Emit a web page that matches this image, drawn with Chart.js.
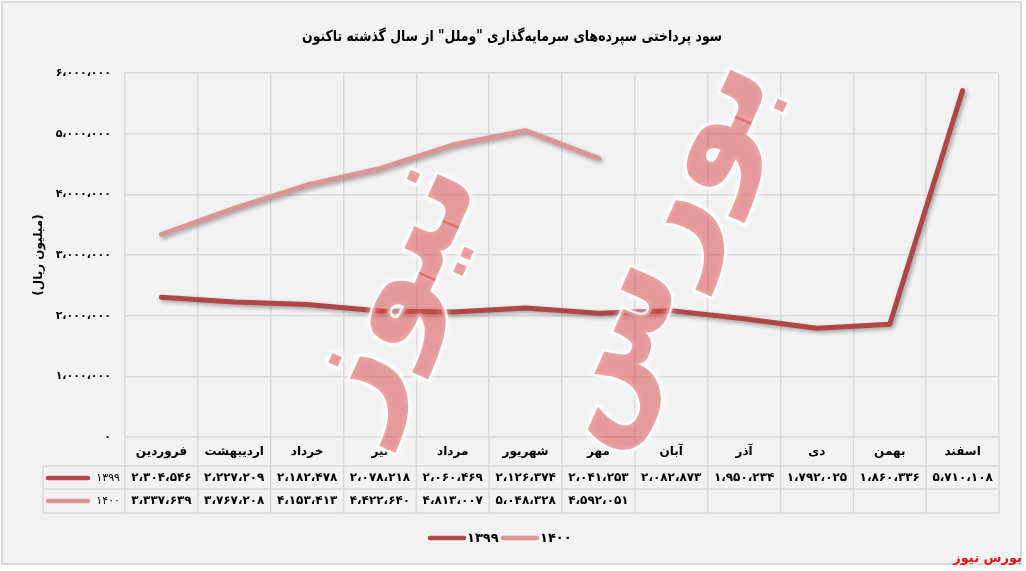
<!DOCTYPE html>
<html lang="fa">
<head>
<meta charset="utf-8">
<title>سود پرداختی سپرده‌های سرمایه‌گذاری وملل</title>
<script src="https://cdn.jsdelivr.net/npm/chart.js@4/dist/chart.umd.min.js"></script>
<style>
  html, body { margin: 0; padding: 0; background: #ffffff; }
  canvas { display: block; }
</style>
</head>
<body>
<canvas id="c" width="1026" height="571"></canvas>
<script>
// Months of the Persian calendar, left to right as on the axis
const categories = ['فروردین', 'اردیبهشت', 'خرداد', 'تیر', 'مرداد', 'شهریور', 'مهر', 'آبان', 'آذر', 'دی', 'بهمن', 'اسفند'];

// Paid deposit interest (million rials) per month
const values1399 = [2304546, 2227209, 2182478, 2078218, 2060469, 2126374, 2041253, 2082873, 1950234, 1792025, 1860336, 5710108];
const values1400 = [3337639, 3767208, 4153413, 4422640, 4813007, 5048328, 4592051, null, null, null, null, null];

const seriesNames = ['۱۳۹۹', '۱۴۰۰'];
const seriesColors = ['#b04646', '#d99694'];

const yMin = 0;
const yMax = 6000000;
const yStep = 1000000;

const titleText = 'سود پرداختی سپرده‌های سرمایه‌گذاری "وملل" از سال گذشته تاکنون';
const yAxisTitle = '(میلیون ریال)';
const brandText = 'بورس نیوز';
const watermarkWords = ['بورس', 'نیوز'];

const FONT = '"DejaVu Sans", sans-serif';
const GRID = '#d9d9d9';

// Persian digits with Arabic comma as thousands separator
function toFa(n) {
  const s = Math.round(n).toString().replace(/\B(?=(\d{3})+(?!\d))/g, '،');
  return s.replace(/\d/g, d => '۰۱۲۳۴۵۶۷۸۹'[d]);
}

// Light-grey panel with its frame
const panel = {
  id: 'panel',
  beforeDraw(chart) {
    const ctx = chart.ctx;
    ctx.save();
    ctx.fillStyle = '#ffffff';
    ctx.fillRect(0, 0, chart.width, chart.height);
    ctx.fillStyle = '#f2f2f2';
    ctx.fillRect(2, 2, 1019, 562);
    ctx.strokeStyle = GRID;
    ctx.lineWidth = 2;
    ctx.strokeRect(2, 2, 1019, 562);
    ctx.restore();
  }
};

// Soft drop shadow under the lines
const lineShadow = {
  id: 'lineShadow',
  beforeDatasetDraw(chart) {
    const ctx = chart.ctx;
    ctx.save();
    ctx.shadowColor = 'rgba(0,0,0,0.35)';
    ctx.shadowBlur = 4;
    ctx.shadowOffsetX = 2;
    ctx.shadowOffsetY = 2;
  },
  afterDatasetDraw(chart) {
    chart.ctx.restore();
  }
};

// Title, data table under the axis, legend, watermark and brand
const extras = {
  id: 'extras',
  afterDraw(chart) {
    const ctx = chart.ctx;
    const xs = chart.scales.x;
    const area = chart.chartArea;
    const colW = (area.right - area.left) / categories.length;
    const headTop = area.bottom;
    const row1Top = 466, row2Top = 489, tableBottom = 513;
    const legendLeft = 43;

    ctx.save();

    // title
    ctx.fillStyle = '#000';
    ctx.direction = 'rtl';
    ctx.textAlign = 'center';
    ctx.textBaseline = 'middle';
    ctx.font = 'bold 15px ' + FONT;
    ctx.fillText(titleText, 512, 37, 420);

    // table grid
    ctx.strokeStyle = GRID;
    ctx.lineWidth = 1.5;
    ctx.beginPath();
    [row1Top, row2Top, tableBottom].forEach(y => {
      ctx.moveTo(legendLeft, y);
      ctx.lineTo(area.right, y);
    });
    ctx.moveTo(legendLeft, row1Top);
    ctx.lineTo(legendLeft, tableBottom);
    for (let i = 0; i <= categories.length; i++) {
      const x = area.left + i * colW;
      ctx.moveTo(x, headTop);
      ctx.lineTo(x, tableBottom);
    }
    ctx.stroke();

    // header: month names
    ctx.fillStyle = '#000';
    ctx.direction = 'rtl';
    ctx.textAlign = 'center';
    ctx.font = 'bold 12px ' + FONT;
    categories.forEach((c, i) => {
      ctx.fillText(c, xs.getPixelForValue(i), 452);
    });

    // value rows
    const rows = [values1399, values1400];
    const rowMid = [478, 501];
    ctx.direction = 'ltr';
    ctx.font = 'bold 12px ' + FONT;
    rows.forEach((vals, r) => {
      vals.forEach((v, i) => {
        if (v === null) return;
        ctx.fillText(toFa(v), xs.getPixelForValue(i), rowMid[r], colW - 6);
      });
    });

    // legend keys inside the table
    ctx.lineCap = 'round';
    rows.forEach((_, r) => {
      ctx.strokeStyle = seriesColors[r];
      ctx.lineWidth = 4.5;
      ctx.beginPath();
      ctx.moveTo(48, rowMid[r]);
      ctx.lineTo(88, rowMid[r]);
      ctx.stroke();
      ctx.fillStyle = '#000';
      ctx.font = '11px ' + FONT;
      ctx.textAlign = 'right';
      ctx.fillText(seriesNames[r], 120, rowMid[r]);
    });

    // bottom legend
    const legendItems = [{ x: 430, t: 467 }, { x: 503, t: 540 }];
    legendItems.forEach((it, r) => {
      ctx.strokeStyle = seriesColors[r];
      ctx.lineWidth = 4.5;
      ctx.beginPath();
      ctx.moveTo(it.x, 538);
      ctx.lineTo(it.x + 34, 538);
      ctx.stroke();
      ctx.fillStyle = '#000';
      ctx.font = 'bold 13px ' + FONT;
      ctx.textAlign = 'left';
      ctx.fillText(seriesNames[r], it.t, 539);
    });

    // watermark
    const marks = [
      { word: watermarkWords[0], x: 655, y: 250, size: 140 },
      { word: watermarkWords[1], x: 390, y: 292, size: 140 }
    ];
    marks.forEach(m => {
      ctx.save();
      ctx.translate(m.x, m.y);
      ctx.rotate(-1.15);
      ctx.direction = 'rtl';
      ctx.textAlign = 'center';
      ctx.textBaseline = 'middle';
      ctx.font = 'bold ' + m.size + 'px ' + FONT;
      ctx.shadowColor = 'rgba(255,255,255,0.95)';
      ctx.shadowBlur = 6;
      ctx.strokeStyle = 'rgba(255,255,255,0.8)';
      ctx.lineWidth = 5;
      ctx.lineJoin = 'round';
      ctx.strokeText(m.word, 0, 0);
      ctx.shadowBlur = 0;
      ctx.fillStyle = 'rgba(214,72,72,0.52)';
      ctx.fillText(m.word, 0, 0);
      ctx.restore();
    });

    // brand mark
    ctx.direction = 'rtl';
    ctx.textAlign = 'right';
    ctx.textBaseline = 'middle';
    ctx.fillStyle = '#ee1111';
    ctx.font = 'bold 13px ' + FONT;
    ctx.fillText(brandText, 1022, 559);

    ctx.restore();
  }
};

new Chart(document.getElementById('c'), {
  type: 'line',
  data: {
    labels: categories,
    datasets: [
      {
        label: seriesNames[0],
        data: values1399,
        borderColor: seriesColors[0],
        backgroundColor: seriesColors[0],
        borderWidth: 5,
        pointRadius: 0,
        tension: 0,
        borderCapStyle: 'round',
        borderJoinStyle: 'round'
      },
      {
        label: seriesNames[1],
        data: values1400,
        borderColor: seriesColors[1],
        backgroundColor: seriesColors[1],
        borderWidth: 5,
        pointRadius: 0,
        tension: 0,
        borderCapStyle: 'round',
        borderJoinStyle: 'round'
      }
    ]
  },
  options: {
    responsive: false,
    devicePixelRatio: 1,
    animation: false,
    layout: { padding: { top: 73, left: 0, right: 27, bottom: 58 } },
    plugins: {
      legend: { display: false },
      title: { display: false },
      tooltip: { enabled: false }
    },
    scales: {
      x: {
        type: 'category',
        offset: true,
        grid: { offset: true, color: GRID, lineWidth: 1.5, drawTicks: false },
        border: { color: GRID, width: 1.5 },
        ticks: { display: false },
        afterFit(scale) { scale.height = 76; }
      },
      y: {
        min: yMin,
        max: yMax,
        ticks: {
          stepSize: yStep,
          padding: 14,
          color: '#000',
          font: { family: FONT, size: 11, weight: 'bold' },
          callback: v => toFa(v)
        },
        grid: { color: GRID, lineWidth: 1.5, drawTicks: false },
        border: { color: GRID, width: 1.5 },
        title: {
          display: true,
          text: yAxisTitle,
          color: '#000',
          font: { family: FONT, size: 12, weight: 'bold' },
          padding: { top: 32, bottom: 0 }
        },
        afterFit(scale) { scale.width = 125; }
      }
    }
  },
  plugins: [panel, lineShadow, extras]
});
</script>
</body>
</html>
